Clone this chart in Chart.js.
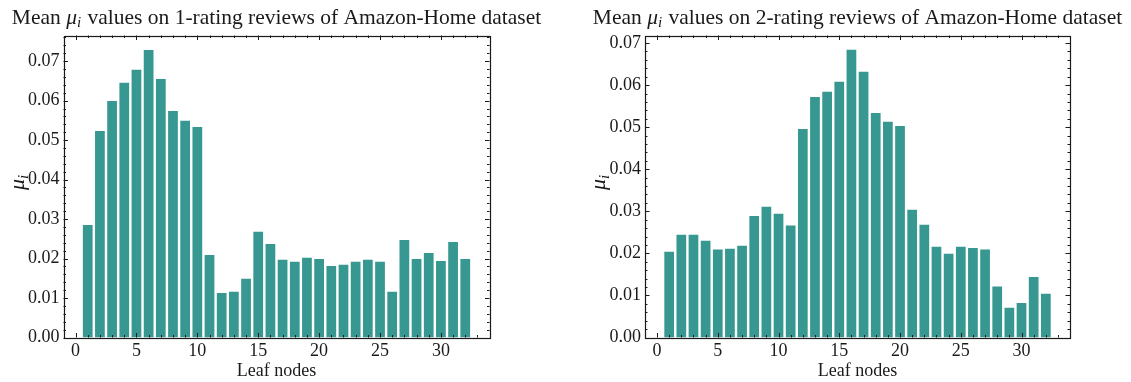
<!DOCTYPE html>
<html>
<head>
<meta charset="utf-8">
<script src="https://cdn.jsdelivr.net/npm/chart.js@4.4.1/dist/chart.umd.min.js"></script>
<style>
  html, body { margin: 0; padding: 0; background: #ffffff; }
  #wrap { position: relative; width: 1131px; height: 382px; overflow: hidden; }
  canvas { position: absolute; top: 0; }
  #c1 { left: 0; }
  #c2 { left: 560px; }
</style>
</head>
<body>
<div id="wrap">
  <canvas id="c1" width="560" height="382"></canvas>
  <canvas id="c2" width="571" height="382"></canvas>
</div>
<script>
// Leaf node indices shared by both panels
const leafNodes = [1, 2, 3, 4, 5, 6, 7, 8, 9, 10, 11, 12, 13, 14, 15, 16,
                   17, 18, 19, 20, 21, 22, 23, 24, 25, 26, 27, 28, 29, 30, 31, 32];

// Mean mu_i per leaf node, 1-rating reviews
const muRating1 = [0.0285, 0.0523, 0.0599, 0.0645, 0.0678, 0.0728, 0.0655, 0.0574,
                   0.0549, 0.0533, 0.0209, 0.0113, 0.0116, 0.0149, 0.0268, 0.0237,
                   0.0197, 0.0192, 0.0202, 0.0199, 0.0181, 0.0184, 0.0192, 0.0197,
                   0.0192, 0.0116, 0.0247, 0.0199, 0.0214, 0.0194, 0.0242, 0.0199];

// Mean mu_i per leaf node, 2-rating reviews
const muRating2 = [0.0204, 0.0244, 0.0244, 0.0230, 0.0209, 0.0211, 0.0218, 0.0289,
                   0.0311, 0.0294, 0.0266, 0.0496, 0.0572, 0.0584, 0.0608, 0.0684,
                   0.0632, 0.0534, 0.0513, 0.0503, 0.0304, 0.0268, 0.0216, 0.0199,
                   0.0216, 0.0213, 0.0209, 0.0121, 0.0071, 0.0082, 0.0144, 0.0104];

// Tick labels
const xTickValues = [0, 5, 10, 15, 20, 25, 30];
const yTickValues = [0.00, 0.01, 0.02, 0.03, 0.04, 0.05, 0.06, 0.07];

const titles = [
  ['Mean ', ' values on 1-rating reviews of Amazon-Home dataset'],
  ['Mean ', ' values on 2-rating reviews of Amazon-Home dataset']
];
const xAxisTitle = 'Leaf nodes';

const BAR_COLOR = 'rgb(55, 151, 145)';
const INK = '#1a1a1a';
const FONT = '"Liberation Serif", "Times New Roman", serif';

// Frame, inward ticks on all four sides, title and axis labels
const framePlugin = {
  id: 'frame',
  afterDraw(chart, args, opts) {
    const ctx = chart.ctx;
    const a = chart.chartArea;
    const xs = chart.scales.x, ys = chart.scales.y;
    ctx.save();
    ctx.strokeStyle = INK;
    ctx.lineWidth = 1;

    const tick = (x1, y1, x2, y2) => {
      ctx.beginPath(); ctx.moveTo(x1, y1); ctx.lineTo(x2, y2); ctx.stroke();
    };
    const MAJ = 4.5, MIN = 2.5;
    // x ticks (bottom and top)
    for (let v = Math.ceil(xs.min); v <= xs.max; v += 1) {
      const px = Math.round(xs.getPixelForValue(v)) + 0.5;
      const len = (v % 5 === 0) ? MAJ : MIN;
      tick(px, a.bottom, px, a.bottom - len);
      tick(px, a.top, px, a.top + len);
    }
    // y ticks (left and right)
    for (let k = 0; k * 0.002 <= ys.max + 1e-9; k++) {
      const v = k * 0.002;
      const py = Math.round(ys.getPixelForValue(v)) + 0.5;
      const len = (k % 5 === 0) ? MAJ : MIN;
      tick(a.left, py, a.left + len, py);
      tick(a.right, py, a.right - len, py);
    }
    // frame
    ctx.lineWidth = 1.2;
    ctx.strokeRect(Math.round(a.left) + 0.5, Math.round(a.top) + 0.5,
                   Math.round(a.right - a.left), Math.round(a.bottom - a.top));

    ctx.fillStyle = INK;
    ctx.textBaseline = 'alphabetic';

    // title with italic mu and subscript i
    const [pre, post] = opts.title;
    const fN = '21.5px ' + FONT, fI = 'italic 21.5px ' + FONT, fS = 'italic 15px ' + FONT;
    ctx.font = fN; const w1 = ctx.measureText(pre).width, w4 = ctx.measureText(post).width;
    ctx.font = fI; const w2 = ctx.measureText('\u03bc').width;
    ctx.font = fS; const w3 = ctx.measureText('i').width + 1;
    const total = w1 + w2 + w3 + w4;
    let tx = (a.left + a.right) / 2 - total / 2;
    const ty = 24;
    ctx.textAlign = 'left';
    ctx.font = fN; ctx.fillText(pre, tx, ty); tx += w1;
    ctx.font = fI; ctx.fillText('\u03bc', tx, ty); tx += w2;
    ctx.font = fS; ctx.fillText('i', tx, ty + 3); tx += w3;
    ctx.font = fN; ctx.fillText(post, tx, ty);

    // x axis title
    ctx.font = '18px ' + FONT;
    ctx.textAlign = 'center';
    ctx.fillText(xAxisTitle, (a.left + a.right) / 2, 376);

    // y axis title (rotated mu_i)
    ctx.save();
    ctx.translate(a.left - 40, (a.top + a.bottom) / 2 - 4);
    ctx.rotate(-Math.PI / 2);
    ctx.font = 'italic 22px ' + FONT;
    const mw = ctx.measureText('\u03bc').width;
    ctx.font = 'italic 15px ' + FONT;
    const iw = ctx.measureText('i').width;
    const sx = -(mw + iw) / 2;
    ctx.textAlign = 'left';
    ctx.font = 'italic 22px ' + FONT; ctx.fillText('\u03bc', sx, 0);
    ctx.font = 'italic 15px ' + FONT; ctx.fillText('i', sx + mw, 4);
    ctx.restore();

    ctx.restore();
  }
};

function makeChart(canvasId, values, title, pad, yMax) {
  return new Chart(document.getElementById(canvasId), {
    type: 'bar',
    data: {
      datasets: [{
        data: leafNodes.map((n, i) => ({ x: n, y: values[i] })),
        backgroundColor: BAR_COLOR,
        borderWidth: 0,
        barPercentage: 0.8,
        categoryPercentage: 1.0
      }]
    },
    options: {
      responsive: false,
      animation: false,
      devicePixelRatio: 1,
      layout: { padding: { left: 0, top: pad.top, right: pad.right, bottom: 0 } },
      plugins: {
        legend: { display: false },
        title: { display: false },
        tooltip: { enabled: false },
        frame: { title: title }
      },
      scales: {
        x: {
          type: 'linear',
          offset: false,
          min: -0.99,
          max: 33.99,
          grid: { display: false, drawTicks: false },
          border: { display: false },
          afterBuildTicks: s => { s.ticks = xTickValues.map(v => ({ value: v })); },
          afterFit: s => { s.height = 382 - pad.bottomEdge; },
          ticks: {
            padding: 3,
            color: INK,
            font: { family: FONT, size: 18 },
            maxRotation: 0,
            callback: v => String(v)
          }
        },
        y: {
          min: 0,
          max: yMax,
          grid: { display: false, drawTicks: false },
          border: { display: false },
          afterBuildTicks: s => { s.ticks = yTickValues.map(v => ({ value: v })); },
          afterFit: s => { s.width = pad.left; },
          ticks: {
            padding: 4,
            color: INK,
            font: { family: FONT, size: 18 },
            callback: v => v.toFixed(2)
          }
        }
      }
    },
    plugins: [framePlugin]
  });
}

makeChart('c1', muRating1, titles[0],
          { left: 63.5, top: 35.5, right: 560 - 489.5, bottomEdge: 337.5 }, 0.0765);
makeChart('c2', muRating2, titles[1],
          { left: 85, top: 35.5, right: 571 - 510, bottomEdge: 337.5 }, 0.0718);
</script>
</body>
</html>
